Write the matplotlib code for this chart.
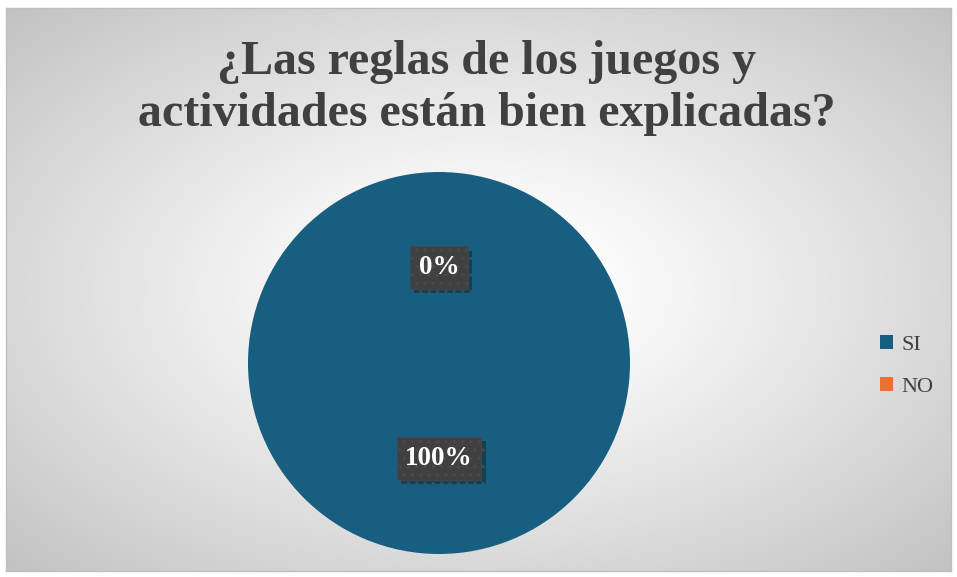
import numpy as np
import matplotlib
matplotlib.use("Agg")
import matplotlib.pyplot as plt
import matplotlib.patheffects as pe

title = "¿Las reglas de los juegos y\nactividades están bien explicadas?"
categories = ["SI", "NO"]
values = [100, 0]
colors = ["#175E80", "#E97132"]

W, H = 957, 577
fig = plt.figure(figsize=(W / 100, H / 100), dpi=100)
fig.patch.set_facecolor("white")

# background panel with radial gradient
x0, y0, x1, y1 = 6, 8, 951, 571
bg = fig.add_axes([x0 / W, 1 - y1 / H, (x1 - x0) / W, (y1 - y0) / H])
nx, ny = 400, 240
xx, yy = np.meshgrid(np.linspace(-1, 1, nx), np.linspace(-1, 1, ny))
d = np.sqrt(xx ** 2 + yy ** 2) / np.sqrt(2)
v = np.clip(1 - 0.24 * np.clip((d - 0.12) / 0.88, 0, 1) ** 1.1, 0, 1)
img = np.dstack([v, v, v])
bg.imshow(img, aspect="auto", extent=[0, 1, 0, 1], interpolation="bilinear")
bg.set_xlim(0, 1)
bg.set_ylim(0, 1)
bg.set_xticks([])
bg.set_yticks([])
for s in bg.spines.values():
    s.set_color("#BFBFBF")
    s.set_linewidth(1)

fig.text(487 / W, 1 - 88 / H, title, ha="center", va="center", fontsize=34.6,
         fontweight="bold", family="Liberation Serif", color="#404040",
         linespacing=1.22)

# pie
cx, cy, r = 439, 363, 191
ax = fig.add_axes([(cx - r) / W, 1 - (cy + r) / H, 2 * r / W, 2 * r / H])
wedges, texts, autotexts = ax.pie(values, colors=colors, startangle=90,
                                  counterclock=False, autopct="%1.0f%%",
                                  pctdistance=0.5,
                                  wedgeprops=dict(linewidth=0))
ax.set_aspect("auto")
ax.set_xlim(-1, 1)
ax.set_ylim(-1, 1)
for t in autotexts:
    t.set_color("white")
    t.set_fontsize(19.5)
    t.set_fontweight("bold")
    t.set_family("Liberation Serif")
    t.set_bbox(dict(boxstyle="square,pad=0.32", facecolor="#404040",
                    edgecolor="#4A4A4A", hatch="..", linewidth=0.5))
    t.get_bbox_patch().set_path_effects([
        pe.SimplePatchShadow(offset=(3, -3), shadow_rgbFace="black", alpha=0.3),
        pe.Normal()])

# legend
leg = fig.legend(wedges, categories, loc="center left",
                 bbox_to_anchor=(860 / W, 1 - 366 / H), frameon=False,
                 prop=dict(family="Liberation Serif", size=16),
                 handlelength=0.6, handleheight=0.6, handletextpad=0.35,
                 labelspacing=1.0, labelcolor="#404040")

fig.savefig("out.png", dpi=100)
